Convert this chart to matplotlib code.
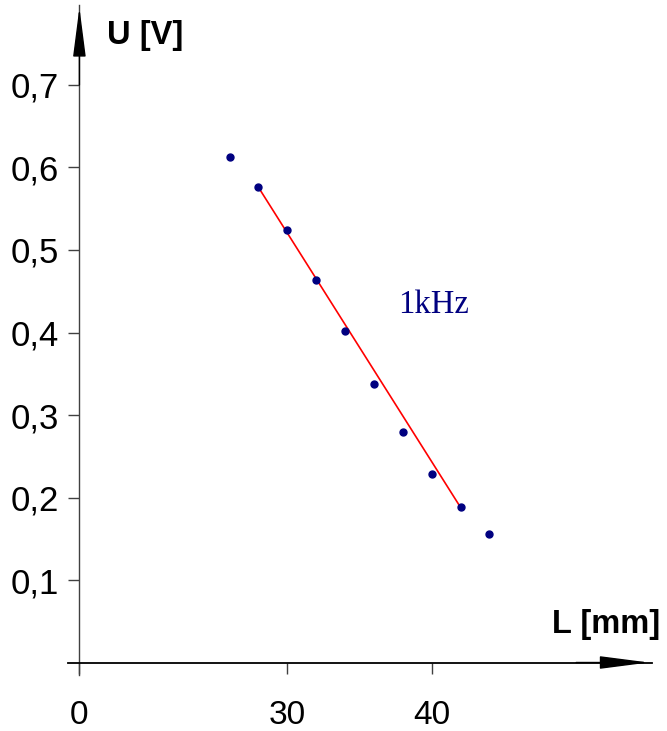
import matplotlib
matplotlib.use('Agg')
import matplotlib.pyplot as plt
import numpy as np

plt.rcParams['font.family'] = ['Liberation Sans', 'DejaVu Sans']

# measured points: length L [mm] vs voltage U [V] at 1 kHz
L_mm = [26, 28, 30, 32, 34, 36, 38, 40, 42, 44]
U_V = [0.613, 0.576, 0.524, 0.464, 0.402, 0.338, 0.280, 0.229, 0.188, 0.156]

# red line joins the first and last point of the linear part
fit_from, fit_to = 28, 42

y_ticks = [0.1, 0.2, 0.3, 0.4, 0.5, 0.6, 0.7]
y_ticklabels = ['0,1', '0,2', '0,3', '0,4', '0,5', '0,6', '0,7']
x_origin = 15.6          # axis break, shown as "0"
x_ticks = [x_origin, 30, 40]
x_ticklabels = ['0', '30', '40']

fig = plt.figure(figsize=(6.67, 7.31), dpi=100)
ax = fig.add_axes([0.10195, 0.0766, 0.8756, 0.9166])
ax.set_xlim(14.81, 55.26)
ax.set_ylim(-0.01515, 0.797)

for s in ['top', 'right']:
    ax.spines[s].set_visible(False)
ax.spines['left'].set_position(('data', x_origin))
ax.spines['bottom'].set_position(('data', 0))
ax.spines['left'].set_color('#404040')
ax.spines['left'].set_linewidth(1.0)
ax.spines['bottom'].set_color('black')
ax.spines['bottom'].set_linewidth(1.3)

ax.set_yticks(y_ticks)
ax.set_yticklabels(y_ticklabels, fontsize=25)
ax.set_xticks(x_ticks)
ax.set_xticklabels(x_ticklabels, fontsize=24)
ax.tick_params(axis='y', direction='out', length=8, width=1, color='#404040', pad=7)
ax.tick_params(axis='x', direction='out', length=8, width=1, color='#404040', pad=19)

# axis arrows
ax.annotate('', xy=(x_origin, 0.794), xytext=(x_origin, 0.70),
            arrowprops=dict(arrowstyle='-|>,head_length=31,head_width=4',
                            mutation_scale=1, color='black', lw=1,
                            shrinkA=0, shrinkB=0))
ax.annotate('', xy=(55.05, 0), xytext=(50.0, 0),
            arrowprops=dict(arrowstyle='-|>,head_length=31,head_width=4',
                            mutation_scale=1, color='black', lw=1,
                            shrinkA=0, shrinkB=0))

# fit line and points
i0, i1 = L_mm.index(fit_from), L_mm.index(fit_to)
ax.plot([L_mm[i0], L_mm[i1]], [U_V[i0], U_V[i1]], color='red', lw=1.2, zorder=2)
ax.plot(L_mm, U_V, 'o', color='#000080', markersize=5, zorder=3)

ax.text(17.51, 0.7606, 'U [V]', fontsize=23.5, fontweight='bold', ha='left', va='center')
ax.text(48.33, 0.0455, 'L [mm]', fontsize=23.5, fontweight='bold', ha='left', va='center')
ax.text(37.67, 0.4236, '1kHz', fontsize=23.5, color='#000080', ha='left', va='baseline',
        family=['Liberation Serif', 'DejaVu Serif'])

plt.savefig('out.png', dpi=100)
